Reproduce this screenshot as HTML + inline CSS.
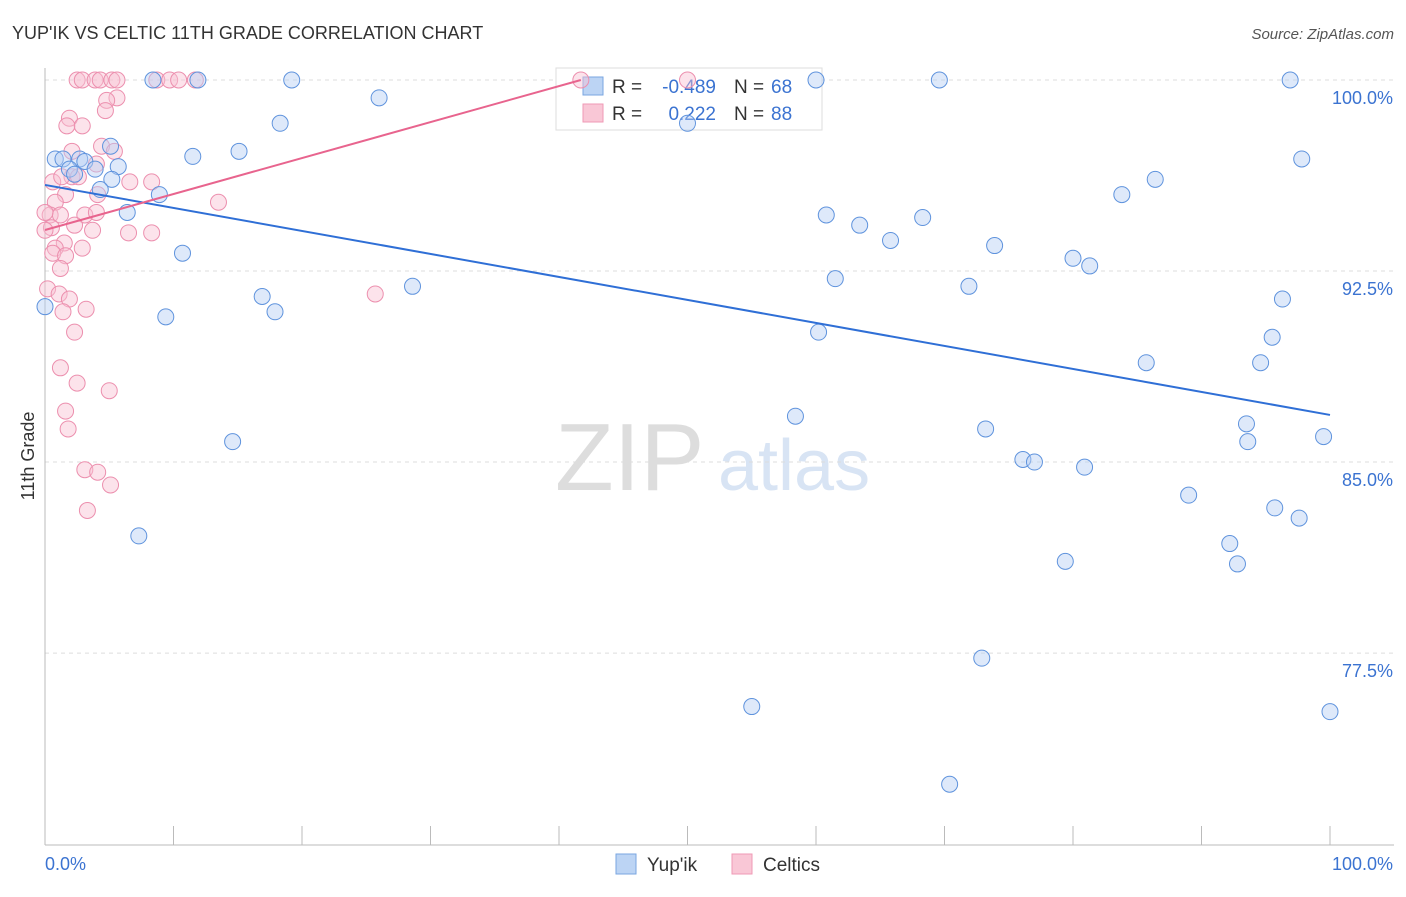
<!DOCTYPE html>
<html><head><meta charset="utf-8"><style>
body{margin:0;background:#fff;font-family:"Liberation Sans",sans-serif}
svg text{font-family:"Liberation Sans",sans-serif}
</style></head><body>
<svg width="1406" height="892" viewBox="0 0 1406 892" xmlns="http://www.w3.org/2000/svg">
<text x="12" y="39" font-size="18" fill="#333">YUP'IK VS CELTIC 11TH GRADE CORRELATION CHART</text>
<text x="1394" y="39" font-size="15" fill="#555" text-anchor="end" font-style="italic">Source: ZipAtlas.com</text>
<text x="555" y="490" font-size="96" fill="#ddd" font-family="Liberation Serif">ZIP</text>
<text x="718" y="490" font-size="72" fill="#d8e4f4">atlas</text>
<g id="grid"></g>
<g id="axes"></g>
<g>
<rect x="556" y="68" width="266" height="62" fill="#fff" stroke="#ddd"/>
<rect x="583" y="77" width="20" height="18" fill="#bcd4f4" stroke="#7aa6e0"/>
<rect x="583" y="104" width="20" height="18" fill="#f9c7d6" stroke="#ef9ab5"/>
<text x="612" y="93" font-size="19" fill="#333">R =</text>
<text x="716" y="93" font-size="19" fill="#3b73d1" text-anchor="end">-0.489</text>
<text x="734" y="93" font-size="19" fill="#333">N =</text>
<text x="771" y="93" font-size="19" fill="#3b73d1">68</text>
<text x="612" y="120" font-size="19" fill="#333">R =</text>
<text x="716" y="120" font-size="19" fill="#3b73d1" text-anchor="end">0.222</text>
<text x="734" y="120" font-size="19" fill="#333">N =</text>
<text x="771" y="120" font-size="19" fill="#3b73d1">88</text>
</g>
<g id="pts"></g>
<g id="lines"></g>
<text transform="translate(34,456) rotate(-90)" font-size="18" fill="#333" text-anchor="middle">11th Grade</text>
<text x="45" y="870" font-size="18" fill="#3b73d1">0.0%</text>
<text x="1393" y="870" font-size="18" fill="#3b73d1" text-anchor="end">100.0%</text>
<g>
<rect x="616" y="854" width="20" height="20" fill="#bcd4f4" stroke="#7aa6e0"/>
<text x="647" y="871" font-size="19" fill="#333">Yup'ik</text>
<rect x="732" y="854" width="20" height="20" fill="#f9c7d6" stroke="#ef9ab5"/>
<text x="763" y="871" font-size="19" fill="#333">Celtics</text>
</g>
</svg>
<script>
const yTicks=[100,92.5,85,77.5];
const yTickLabels=["100.0%","92.5%","85.0%","77.5%"];
const xTicks=[0,10,20,30,40,50,60,70,80,90,100];
const blueX=[8.4,11.9,19.2,60,69.6,96.9,26,18.3,50,5.1,15.1,11.5,0.8,1.4,2.7,3.1,97.8,1.9,3.9,5.7,2.3,5.2,86.4,4.3,8.9,83.8,6.4,60.8,68.3,63.4,65.8,73.9,10.7,80,81.3,61.5,71.9,28.6,16.9,96.3,17.9,9.4,0,60.2,95.5,85.7,94.6,58.4,93.5,99.5,14.6,73.2,93.6,76.1,77.0,80.9,89,95.7,97.6,7.3,92.2,79.4,92.8,72.9,55,100,70.4];
const blueY=[100,100,100,100,100,100,99.3,98.3,98.3,97.4,97.2,97,96.9,96.9,96.9,96.8,96.9,96.5,96.5,96.6,96.3,96.1,96.1,95.7,95.5,95.5,94.8,94.7,94.6,94.3,93.7,93.5,93.2,93,92.7,92.2,91.9,91.9,91.5,91.4,90.9,90.7,91.1,90.1,89.9,88.9,88.9,86.8,86.5,86,85.8,86.3,85.8,85.1,85,84.8,83.7,83.2,82.8,82.1,81.8,81.1,81,77.3,75.4,75.2,72.35];
const pinkX=[2.5,2.9,3.9,4.3,5.2,5.6,8.7,9.7,10.4,11.7,41.7,50,5.6,1.9,4.8,1.7,2.9,4.7,2.1,4.4,5.4,4.0,6.6,8.3,2.1,2.6,0.6,1.6,4.1,0.8,0.4,1.2,3.1,4.0,13.5,0.5,2.3,3.7,6.5,8.3,1.5,0.8,2.9,0.6,1.6,1.2,0.2,1.1,1.9,3.2,1.4,2.3,25.7,1.2,2.5,5,1.6,1.8,3.1,4.1,5.1,3.3,0,0,1.3];
const pinkY=[100,100,100,100,100,100,100,100,100,100,100,100,99.3,98.5,99.2,98.2,98.2,98.8,97.2,97.4,97.2,96.7,96,96,96.2,96.2,96,95.5,95.5,95.2,94.7,94.7,94.7,94.8,95.2,94.2,94.3,94.1,94,94,93.6,93.4,93.4,93.2,93.1,92.6,91.8,91.6,91.4,91,90.9,90.1,91.6,88.7,88.1,87.8,87,86.3,84.7,84.6,84.1,83.1,94.1,94.8,96.2];
const blueLine=[[0,95.88],[100,86.85]];
const pinkLine=[[0,94.11],[41.7,100]];
const X=v=>45+v*12.85, Y=v=>80+(100-v)*25.47;
const NS="http://www.w3.org/2000/svg";
function mk(t,a,p){const e=document.createElementNS(NS,t);for(const k in a)e.setAttribute(k,a[k]);document.getElementById(p).appendChild(e);return e;}
yTicks.forEach((t,i)=>{
 const l=mk('line',{x1:45,x2:1394,y1:Y(t),y2:Y(t),stroke:'#ddd','stroke-dasharray':'4,4'},'grid');
 
 
 const tx=mk('text',{x:1393,y:Y(t)+24,'font-size':18,fill:'#3b73d1','text-anchor':'end'},'grid');
 tx.textContent=yTickLabels[i];
 
 
});
const ax=mk('line',{x1:45,x2:45,y1:68,y2:845,stroke:'#bbb'},'axes');


const bx=mk('line',{x1:45,x2:1394,y1:845,y2:845,stroke:'#bbb'},'axes');


xTicks.forEach(t=>{const l=mk('line',{x1:X(t),x2:X(t),y1:826,y2:845,stroke:'#bbb'},'axes');
 
 });
function pts(xs,ys,fill,stroke,name){xs.forEach((x,i)=>{const c=mk('circle',{cx:X(x),cy:Y(ys[i]),r:8,fill:fill,'fill-opacity':0.45,stroke:stroke,'stroke-width':1},'pts');
 
 });}
pts(pinkX,pinkY,'#f9c0d2','#ec8fae','celtics-point');
pts(blueX,blueY,'#b5cff3','#5f93dd','yupik-point');
const bl=mk('line',{x1:X(blueLine[0][0]),y1:Y(blueLine[0][1]),x2:X(blueLine[1][0]),y2:Y(blueLine[1][1]),stroke:'#2f6fd6','stroke-width':2},'lines');


const pl=mk('line',{x1:X(pinkLine[0][0]),y1:Y(pinkLine[0][1]),x2:X(pinkLine[1][0]),y2:Y(pinkLine[1][1]),stroke:'#e8648e','stroke-width':2},'lines');


</script>
</body></html>
